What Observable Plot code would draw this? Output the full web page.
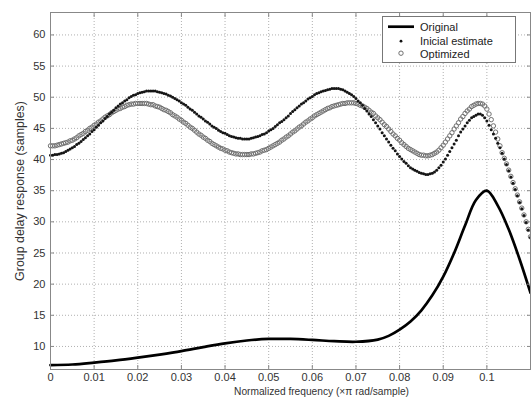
<!DOCTYPE html>
<html><head><meta charset="utf-8">
<script src="https://cdn.jsdelivr.net/npm/d3@7"></script>
<script src="https://cdn.jsdelivr.net/npm/@observablehq/plot@0.6"></script>
<style>
body{margin:0;background:#fff;}
#wrap{position:relative;width:531px;height:403px;}
#legend{position:absolute;left:382px;top:16px;width:134px;height:47px;border:1px solid #777;background:#fff;box-sizing:border-box;}
#legend text{font:11px "Liberation Sans",Arial,sans-serif;fill:#222;}
</style></head><body><div id="wrap"></div>
<script>
// Tick values
const xTicks = [0, 0.01, 0.02, 0.03, 0.04, 0.05, 0.06, 0.07, 0.08, 0.09, 0.1];
const yTicks = [10, 15, 20, 25, 30, 35, 40, 45, 50, 55, 60];

// Original group delay (solid line)
const origFreq = [0, 0.005, 0.01, 0.015, 0.02, 0.025, 0.03, 0.035, 0.04, 0.045, 0.05, 0.055, 0.06, 0.065, 0.07, 0.075, 0.0775, 0.08, 0.0825, 0.085, 0.0875, 0.09, 0.0925, 0.095, 0.0975, 0.1, 0.1025, 0.105, 0.1075, 0.11];
const origDelay = [7.0, 7.1, 7.4, 7.75, 8.2, 8.7, 9.25, 9.9, 10.5, 10.95, 11.2, 11.2, 11.05, 10.85, 10.75, 11.1, 11.7, 12.7, 14.0, 15.8, 18.2, 21.2, 25.0, 29.4, 33.5, 35.0, 32.6, 28.8, 24.0, 18.6];

// Marker series sampled every 0.0005 (normalized frequency) from 0 to 0.11
const markerStep = 0.0005;
const initialDelay = [
40.7,40.7,40.8,40.8,40.9,41.0,41.1,41.3,41.5,41.7,
41.9,42.1,42.4,42.6,42.9,43.2,43.5,43.8,44.1,44.5,
44.8,45.2,45.5,45.9,46.2,46.6,46.9,47.3,47.6,47.9,
48.3,48.6,48.9,49.1,49.4,49.6,49.9,50.1,50.3,50.4,
50.6,50.7,50.8,50.9,51.0,51.0,51.0,51.0,51.0,50.9,
50.8,50.7,50.6,50.5,50.3,50.2,50.0,49.8,49.6,49.4,
49.1,48.9,48.7,48.4,48.1,47.9,47.6,47.3,47.0,46.8,
46.5,46.2,46.0,45.7,45.4,45.2,45.0,44.7,44.5,44.3,
44.2,44.0,43.8,43.7,43.6,43.5,43.4,43.4,43.3,43.3,
43.3,43.3,43.4,43.5,43.6,43.7,43.8,44.0,44.1,44.3,
44.6,44.8,45.0,45.3,45.6,45.9,46.1,46.4,46.7,47.0,
47.4,47.7,48.0,48.3,48.6,48.9,49.1,49.4,49.7,49.9,
50.1,50.4,50.6,50.7,50.9,51.0,51.1,51.2,51.3,51.4,
51.4,51.4,51.4,51.3,51.2,51.0,50.8,50.6,50.4,50.1,
49.8,49.4,49.1,48.7,48.2,47.8,47.3,46.9,46.4,45.9,
45.4,44.9,44.3,43.8,43.3,42.8,42.3,41.8,41.4,40.9,
40.5,40.1,39.7,39.4,39.0,38.7,38.5,38.3,38.1,37.9,
37.8,37.7,37.6,37.6,37.7,37.8,38.0,38.3,38.7,39.1,
39.6,40.1,40.7,41.3,41.9,42.5,43.1,43.8,44.4,44.9,
45.4,45.9,46.3,46.7,46.9,47.1,47.3,47.3,47.1,46.7,
46.2,45.5,44.8,44.1,43.4,42.6,41.9,41.0,40.1,39.2,
38.2,37.2,36.2,35.2,34.2,33.1,32.1,31.0,29.9,28.7,27.5];
const optimizedDelay = [
42.2,42.2,42.2,42.3,42.4,42.5,42.6,42.7,42.8,43.0,
43.1,43.3,43.5,43.8,44.0,44.2,44.5,44.7,45.0,45.2,
45.5,45.7,46.0,46.2,46.5,46.8,47.0,47.2,47.5,47.7,
47.9,48.1,48.2,48.4,48.5,48.7,48.8,48.9,48.9,49.0,
49.0,49.0,49.0,49.0,49.0,48.9,48.8,48.8,48.6,48.5,
48.4,48.2,48.0,47.9,47.7,47.5,47.2,47.0,46.8,46.5,
46.3,46.0,45.8,45.5,45.2,45.0,44.7,44.4,44.1,43.9,
43.6,43.4,43.1,42.9,42.6,42.4,42.2,42.0,41.8,41.7,
41.5,41.4,41.2,41.1,41.0,40.9,40.9,40.8,40.8,40.8,
40.8,40.8,40.9,40.9,41.0,41.1,41.2,41.4,41.5,41.6,
41.8,42.0,42.2,42.4,42.6,42.8,43.1,43.3,43.6,43.8,
44.1,44.4,44.6,44.9,45.2,45.4,45.7,46.0,46.2,46.5,
46.7,47.0,47.2,47.4,47.6,47.8,48.0,48.2,48.3,48.5,
48.6,48.7,48.8,48.9,49.0,49.0,49.1,49.1,49.1,49.1,
49.0,48.9,48.7,48.6,48.4,48.2,47.9,47.6,47.4,47.0,
46.7,46.4,46.0,45.6,45.3,44.9,44.5,44.1,43.8,43.4,
43.1,42.7,42.4,42.1,41.8,41.6,41.4,41.2,41.0,40.8,
40.7,40.7,40.6,40.6,40.7,40.8,41.0,41.2,41.5,41.9,
42.3,42.8,43.3,43.8,44.3,44.9,45.4,45.9,46.5,46.9,
47.4,47.8,48.1,48.5,48.7,48.9,49.0,49.0,48.9,48.6,
48.1,47.3,46.4,45.4,44.4,43.3,42.2,41.1,40.2,39.3,
38.3,37.3,36.3,35.3,34.3,33.2,32.2,31.1,30.0,28.8,27.6];

const seriesNames = ["Original", "Inicial estimate", "Optimized"];
const xLabel = "Normalized frequency (\u00d7\u03c0 rad/sample)";
const yLabel = "Group delay response (samples)";

const original = origFreq.map((f, i) => ({f, d: origDelay[i]}));
const initial = initialDelay.map((d, i) => ({f: +(i * markerStep).toFixed(4), d}));
const optimized = optimizedDelay.map((d, i) => ({f: +(i * markerStep).toFixed(4), d}));

const fmt = d => d === 0 ? "0" : String(+d.toFixed(2));
const blank = () => "";

const chart = Plot.plot({
  width: 531,
  height: 403,
  marginLeft: 50,
  marginRight: 1,
  marginTop: 12,
  marginBottom: 34,
  style: {fontFamily: '"Liberation Sans", Arial, sans-serif', fontSize: "11px", color: "#333", background: "#fff"},
  x: {domain: [0, 0.11], label: null},
  y: {domain: [6.3, 63.6], label: null},
  marks: [
    Plot.gridX(xTicks, {stroke: "#b0b0b0", strokeOpacity: 1, strokeDasharray: "1,2"}),
    Plot.gridY(yTicks, {stroke: "#b0b0b0", strokeOpacity: 1, strokeDasharray: "1,2"}),
    Plot.line(original, {x: "f", y: "d", curve: "catmull-rom", stroke: "#000", strokeWidth: 2.7}),
    Plot.dot(optimized, {x: "f", y: "d", r: 2.2, stroke: "#707070", strokeWidth: 1, fill: "none"}),
    Plot.dot(initial, {x: "f", y: "d", r: 1.5, fill: "#151515", stroke: "none"}),
    Plot.frame({stroke: "#888", strokeWidth: 1}),
    Plot.axisX(xTicks, {anchor: "bottom", tickSize: 0, tickPadding: 4, tickFormat: fmt, label: null, fill: "#333"}),
    Plot.axisY(yTicks, {anchor: "left", tickSize: 0, tickPadding: 5, label: null, fill: "#333"}),
    Plot.axisX(xTicks, {anchor: "bottom", tickSize: -4, tickFormat: blank, label: null, stroke: "#888"}),
    Plot.axisX(xTicks, {anchor: "top", tickSize: -4, tickFormat: blank, label: null, stroke: "#888"}),
    Plot.axisY(yTicks, {anchor: "left", tickSize: -4, tickFormat: blank, label: null, stroke: "#888"}),
    Plot.axisY(yTicks, {anchor: "right", tickSize: -4, tickFormat: blank, label: null, stroke: "#888"}),
    Plot.text([xLabel], {frameAnchor: "bottom", dy: 25, dx: 31, fill: "#333", fontSize: 10.2}),
    Plot.text([yLabel], {frameAnchor: "left", dx: -30, rotate: -90, textAnchor: "middle", fill: "#333", fontSize: 12.4})
  ]
});

const wrap = document.getElementById("wrap");
wrap.appendChild(chart);

const legend = document.createElement("div");
legend.id = "legend";
legend.innerHTML = `<svg width="134" height="47" style="position:absolute;left:0;top:0">
  <line x1="5" x2="31" y1="9.7" y2="9.7" stroke="#000" stroke-width="2.7"/>
  <circle cx="18" cy="24.2" r="1.4" fill="#111"/>
  <circle cx="18" cy="36.2" r="2.2" fill="none" stroke="#707070"/>
  <text x="37" y="13.8">${seriesNames[0]}</text>
  <text x="37" y="28.2">${seriesNames[1]}</text>
  <text x="37" y="41.3">${seriesNames[2]}</text>
</svg>`;
wrap.appendChild(legend);
</script>
</body></html>
